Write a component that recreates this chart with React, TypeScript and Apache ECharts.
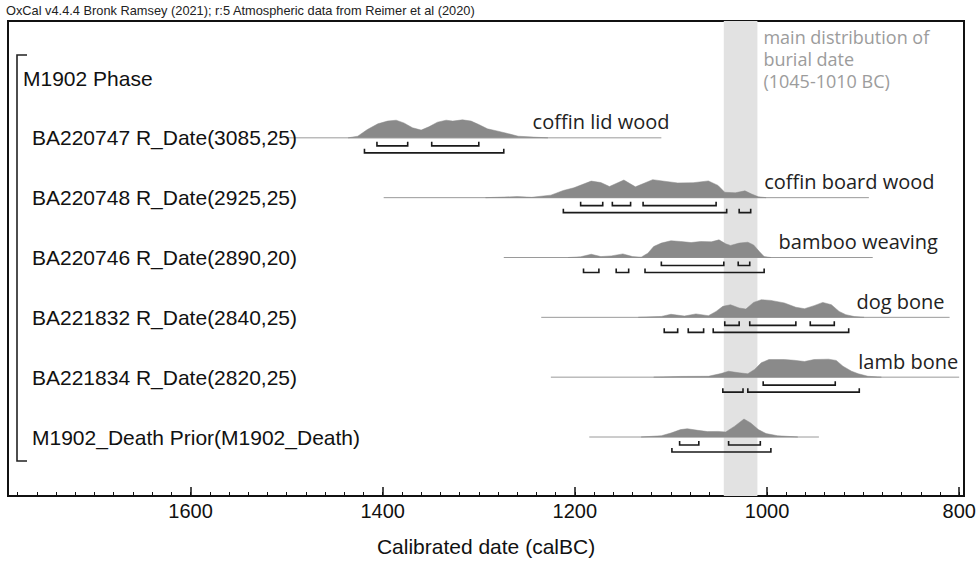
import React, { useEffect, useRef } from "react";
import * as echarts from "echarts";

const headerText = "OxCal v4.4.4 Bronk Ramsey (2021); r:5 Atmospheric data from Reimer et al (2020)";
const axisTitle = "Calibrated date (calBC)";
const phaseLabel = "M1902 Phase";
const rowLabels = [
  "BA220747 R_Date(3085,25)",
  "BA220748 R_Date(2925,25)",
  "BA220746 R_Date(2890,20)",
  "BA221832 R_Date(2840,25)",
  "BA221834 R_Date(2820,25)",
  "M1902_Death Prior(M1902_Death)",
];
const annotations = ["coffin lid wood", "coffin board wood", "bamboo weaving", "dog bone", "lamb bone", ""];
const annotationYears = [1244, 1003, 988, 907, 905, 0];

// extent of each baseline (calBC)
const lineRanges: [number, number][] = [
  [1500, 1110],
  [1399, 894],
  [1274, 890],
  [1235, 810],
  [1225, 800],
  [1185, 946],
];

// probability densities: [year calBC, relative height]
const dens1: [number, number][] = [
  [1436, 0], [1426, 0.09], [1416, 0.46], [1405, 0.78], [1395, 0.93], [1386, 0.98], [1378, 0.83],
  [1369, 0.56], [1360, 0.43], [1352, 0.61], [1343, 0.87], [1334, 0.98], [1327, 0.93], [1317, 1.0],
  [1308, 0.93], [1300, 0.74], [1291, 0.5], [1280, 0.37], [1270, 0.24], [1259, 0.09], [1243, 0.04], [1228, 0],
];
const dens2: [number, number][] = [
  [1293, 0], [1260, 0.06], [1245, 0.02], [1225, 0.14], [1212, 0.4], [1201, 0.55], [1183, 0.92],
  [1173, 0.84], [1164, 0.62], [1149, 0.98], [1137, 0.6], [1119, 1.0], [1105, 0.9], [1093, 0.82],
  [1077, 0.83], [1061, 0.93], [1051, 0.68], [1044, 0.3], [1033, 0.27], [1023, 0.38], [1016, 0.2],
  [1009, 0.05], [1001, 0],
];
const dens3: [number, number][] = [
  [1207, 0], [1194, 0.04], [1183, 0.18], [1173, 0.05], [1162, 0.09], [1150, 0.2], [1140, 0.05],
  [1131, 0.02], [1124, 0.24], [1118, 0.61], [1110, 0.8], [1100, 0.93], [1090, 0.89], [1079, 0.83],
  [1069, 0.89], [1058, 0.87], [1050, 0.98], [1043, 0.76], [1038, 0.67], [1029, 0.8], [1020, 0.85],
  [1014, 0.7], [1008, 0.33], [1003, 0.05], [996, 0],
];
const dens4: [number, number][] = [
  [1134, 0], [1110, 0.05], [1100, 0.17], [1086, 0.07], [1074, 0.19], [1061, 0.09], [1053, 0.33],
  [1046, 0.61], [1038, 0.7], [1029, 0.52], [1022, 0.46], [1014, 0.83], [1006, 0.98], [996, 0.94],
  [982, 0.8], [970, 0.56], [961, 0.48], [951, 0.65], [942, 0.83], [933, 0.7], [925, 0.33],
  [918, 0.15], [909, 0.04], [899, 0],
];
const dens5: [number, number][] = [
  [1118, 0], [1090, 0.04], [1061, 0.05], [1048, 0.2], [1040, 0.33], [1029, 0.24], [1020, 0.19],
  [1013, 0.43], [1006, 0.8], [998, 0.98], [982, 0.98], [972, 0.94], [961, 0.87], [951, 0.98],
  [936, 1.0], [928, 0.93], [921, 0.61], [912, 0.33], [905, 0.19], [895, 0.05], [881, 0],
];
const dens6: [number, number][] = [
  [1131, 0], [1110, 0.07], [1100, 0.22], [1090, 0.41], [1083, 0.46], [1072, 0.37], [1062, 0.3],
  [1051, 0.31], [1043, 0.28], [1034, 0.59], [1024, 1.0], [1017, 0.78], [1009, 0.41], [1001, 0.19],
  [989, 0.07], [968, 0],
];
const densities = [dens1, dens2, dens3, dens4, dens5, dens6];

// highest posterior density ranges (calBC)
const ranges68: [number, number][][] = [
  [[1406, 1374], [1349, 1300]],
  [[1194, 1171], [1161, 1142], [1129, 1053]],
  [[1110, 1045], [1030, 1018]],
  [[1044, 1029], [1018, 970], [955, 930]],
  [[1004, 929]],
  [[1091, 1071], [1040, 1007]],
];
const ranges95: [number, number][][] = [
  [[1419, 1274]],
  [[1212, 1042], [1029, 1017]],
  [[1191, 1175], [1157, 1144], [1127, 1003]],
  [[1107, 1093], [1082, 1066], [1056, 915]],
  [[1046, 1025], [1020, 904]],
  [[1099, 996]],
];

const burialRange: [number, number] = [1045, 1010];
const burialNote = ["main distribution of", "burial date", "(1045-1010 BC)"];

const majorTicks = [800, 1000, 1200, 1400, 1600];
const minorTicks: number[] = [];
for (let v = 800; v <= 1780; v += 20) minorTicks.push(v);

const X_MIN = 795;
const X_MAX = 1790;
const Y_MIN = -0.9527;
const Y_MAX = 6.986;

const ARIAL = "'Liberation Sans', Arial, Helvetica, sans-serif";
const HUMANIST = "'Open Sans', 'Noto Sans', sans-serif";
const PEAK = 18;

export default function App() {
  const ref = useRef<HTMLDivElement>(null);
  useEffect(() => {
    if (!ref.current) return;
    const chart = echarts.init(ref.current, undefined, { renderer: "svg" });

    const rowRender = (params: any, api: any) => {
      const i = params.dataIndex;
      const row = i + 1;
      const children: any[] = [];
      const a = api.coord([lineRanges[i][0], row]);
      const b = api.coord([lineRanges[i][1], row]);
      children.push({
        type: "line",
        shape: { x1: a[0], y1: a[1], x2: b[0], y2: b[1] },
        style: { stroke: "#9a9a9a", lineWidth: 1 },
      });
      const d = densities[i];
      const pts: number[][] = [];
      const first = api.coord([d[0][0], row]);
      pts.push([first[0], first[1]]);
      d.forEach(([yr, h]) => {
        const p = api.coord([yr, row]);
        pts.push([p[0], p[1] - h * PEAK]);
      });
      const last = api.coord([d[d.length - 1][0], row]);
      pts.push([last[0], last[1]]);
      children.push({ type: "polygon", shape: { points: pts }, style: { fill: "#8a8a8a", stroke: "#8a8a8a", lineWidth: 0.5 } });
      const bracket = (r: [number, number], off: number) => {
        const p0 = api.coord([r[0], row]);
        const p1 = api.coord([r[1], row]);
        const y = p0[1] + off;
        children.push({
          type: "polyline",
          shape: { points: [[p0[0], y - 4], [p0[0], y], [p1[0], y], [p1[0], y - 4]] },
          style: { stroke: "#1a1a1a", lineWidth: 1.6, fill: null },
        });
      };
      ranges68[i].forEach((r) => bracket(r, 8));
      ranges95[i].forEach((r) => bracket(r, 15));
      children.push({
        type: "text",
        x: 32,
        y: a[1],
        style: { text: rowLabels[i], fill: "#111", fontSize: 21, fontFamily: ARIAL, align: "left", verticalAlign: "middle" },
      });
      if (annotations[i]) {
        const t = api.coord([annotationYears[i], row]);
        children.push({
          type: "text",
          x: t[0],
          y: t[1] - 16,
          style: { text: annotations[i], fill: "#222", fontSize: 20, fontFamily: HUMANIST, align: "left", verticalAlign: "middle" },
        });
      }
      return { type: "group", children };
    };

    const bandRender = (params: any, api: any) => {
      const cs = params.coordSys;
      const l = api.coord([burialRange[0], 0])[0];
      const r = api.coord([burialRange[1], 0])[0];
      const ph = api.coord([X_MIN, 0]);
      return {
        type: "group",
        children: [
          { type: "rect", shape: { x: l, y: cs.y, width: r - l, height: cs.height }, style: { fill: "#e2e2e2" } },
          {
            type: "text",
            x: r + 6,
            y: cs.y + 5,
            style: {
              text: burialNote.join("\n"),
              fill: "#9c9c9c",
              fontSize: 18,
              lineHeight: 22,
              fontFamily: HUMANIST,
              align: "left",
              verticalAlign: "top",
            },
          },
          {
            type: "text",
            x: 23,
            y: ph[1],
            style: { text: phaseLabel, fill: "#111", fontSize: 21, fontFamily: ARIAL, align: "left", verticalAlign: "middle" },
          },
        ],
      };
    };

    chart.setOption({
      animation: false,
      backgroundColor: "#fff",
      grid: { left: 8, right: 16, top: 21, bottom: 69, show: true, borderColor: "#111", borderWidth: 2, backgroundColor: "transparent" },
      xAxis: [
        {
          type: "value",
          min: X_MIN,
          max: X_MAX,
          inverse: true,
          position: "bottom",
          axisLine: { show: true, onZero: false, lineStyle: { color: "#111", width: 2 } },
          axisTick: { show: true, inside: true, length: 9, lineStyle: { color: "#111", width: 1.5 }, customValues: majorTicks },
          axisLabel: {
            show: true,
            customValues: majorTicks,
            fontSize: 20,
            color: "#111",
            margin: 5,
            fontFamily: ARIAL,
            formatter: (v: number) => String(v),
          },
          splitLine: { show: false },
          name: axisTitle,
          nameLocation: "middle",
          nameGap: 40,
          nameTextStyle: { fontSize: 21, color: "#111", fontFamily: ARIAL },
        },
        {
          type: "value",
          min: X_MIN,
          max: X_MAX,
          inverse: true,
          position: "bottom",
          gridIndex: 0,
          axisLine: { show: false, onZero: false },
          axisTick: { show: true, inside: true, length: 4, lineStyle: { color: "#111", width: 1 }, customValues: minorTicks },
          axisLabel: { show: false },
          splitLine: { show: false },
        },
      ],
      yAxis: { type: "value", min: Y_MIN, max: Y_MAX, inverse: true, show: false },
      graphic: [
        {
          type: "text",
          left: 6,
          top: 4,
          style: { text: headerText, fill: "#222", fontSize: 12.8, fontFamily: ARIAL },
        },
        {
          type: "polyline",
          shape: { points: [[27, 55], [17, 55], [17, 461], [27, 461]] },
          style: { stroke: "#222", lineWidth: 1.6, fill: null },
        },
      ],
      series: [
        {
          type: "custom",
          xAxisIndex: 0,
          yAxisIndex: 0,
          data: [[1000, 0]],
          renderItem: bandRender,
          silent: true,
          z: 1,
        },
        {
          type: "custom",
          xAxisIndex: 0,
          yAxisIndex: 0,
          data: lineRanges.map((r, i) => [r[1], i + 1]),
          encode: { x: 0, y: 1 },
          renderItem: rowRender,
          silent: true,
          z: 2,
        },
      ],
    });
    return () => chart.dispose();
  }, []);
  return <div ref={ref} style={{ position: "absolute", left: 0, top: 0, width: 980, height: 565 }} />;
}
